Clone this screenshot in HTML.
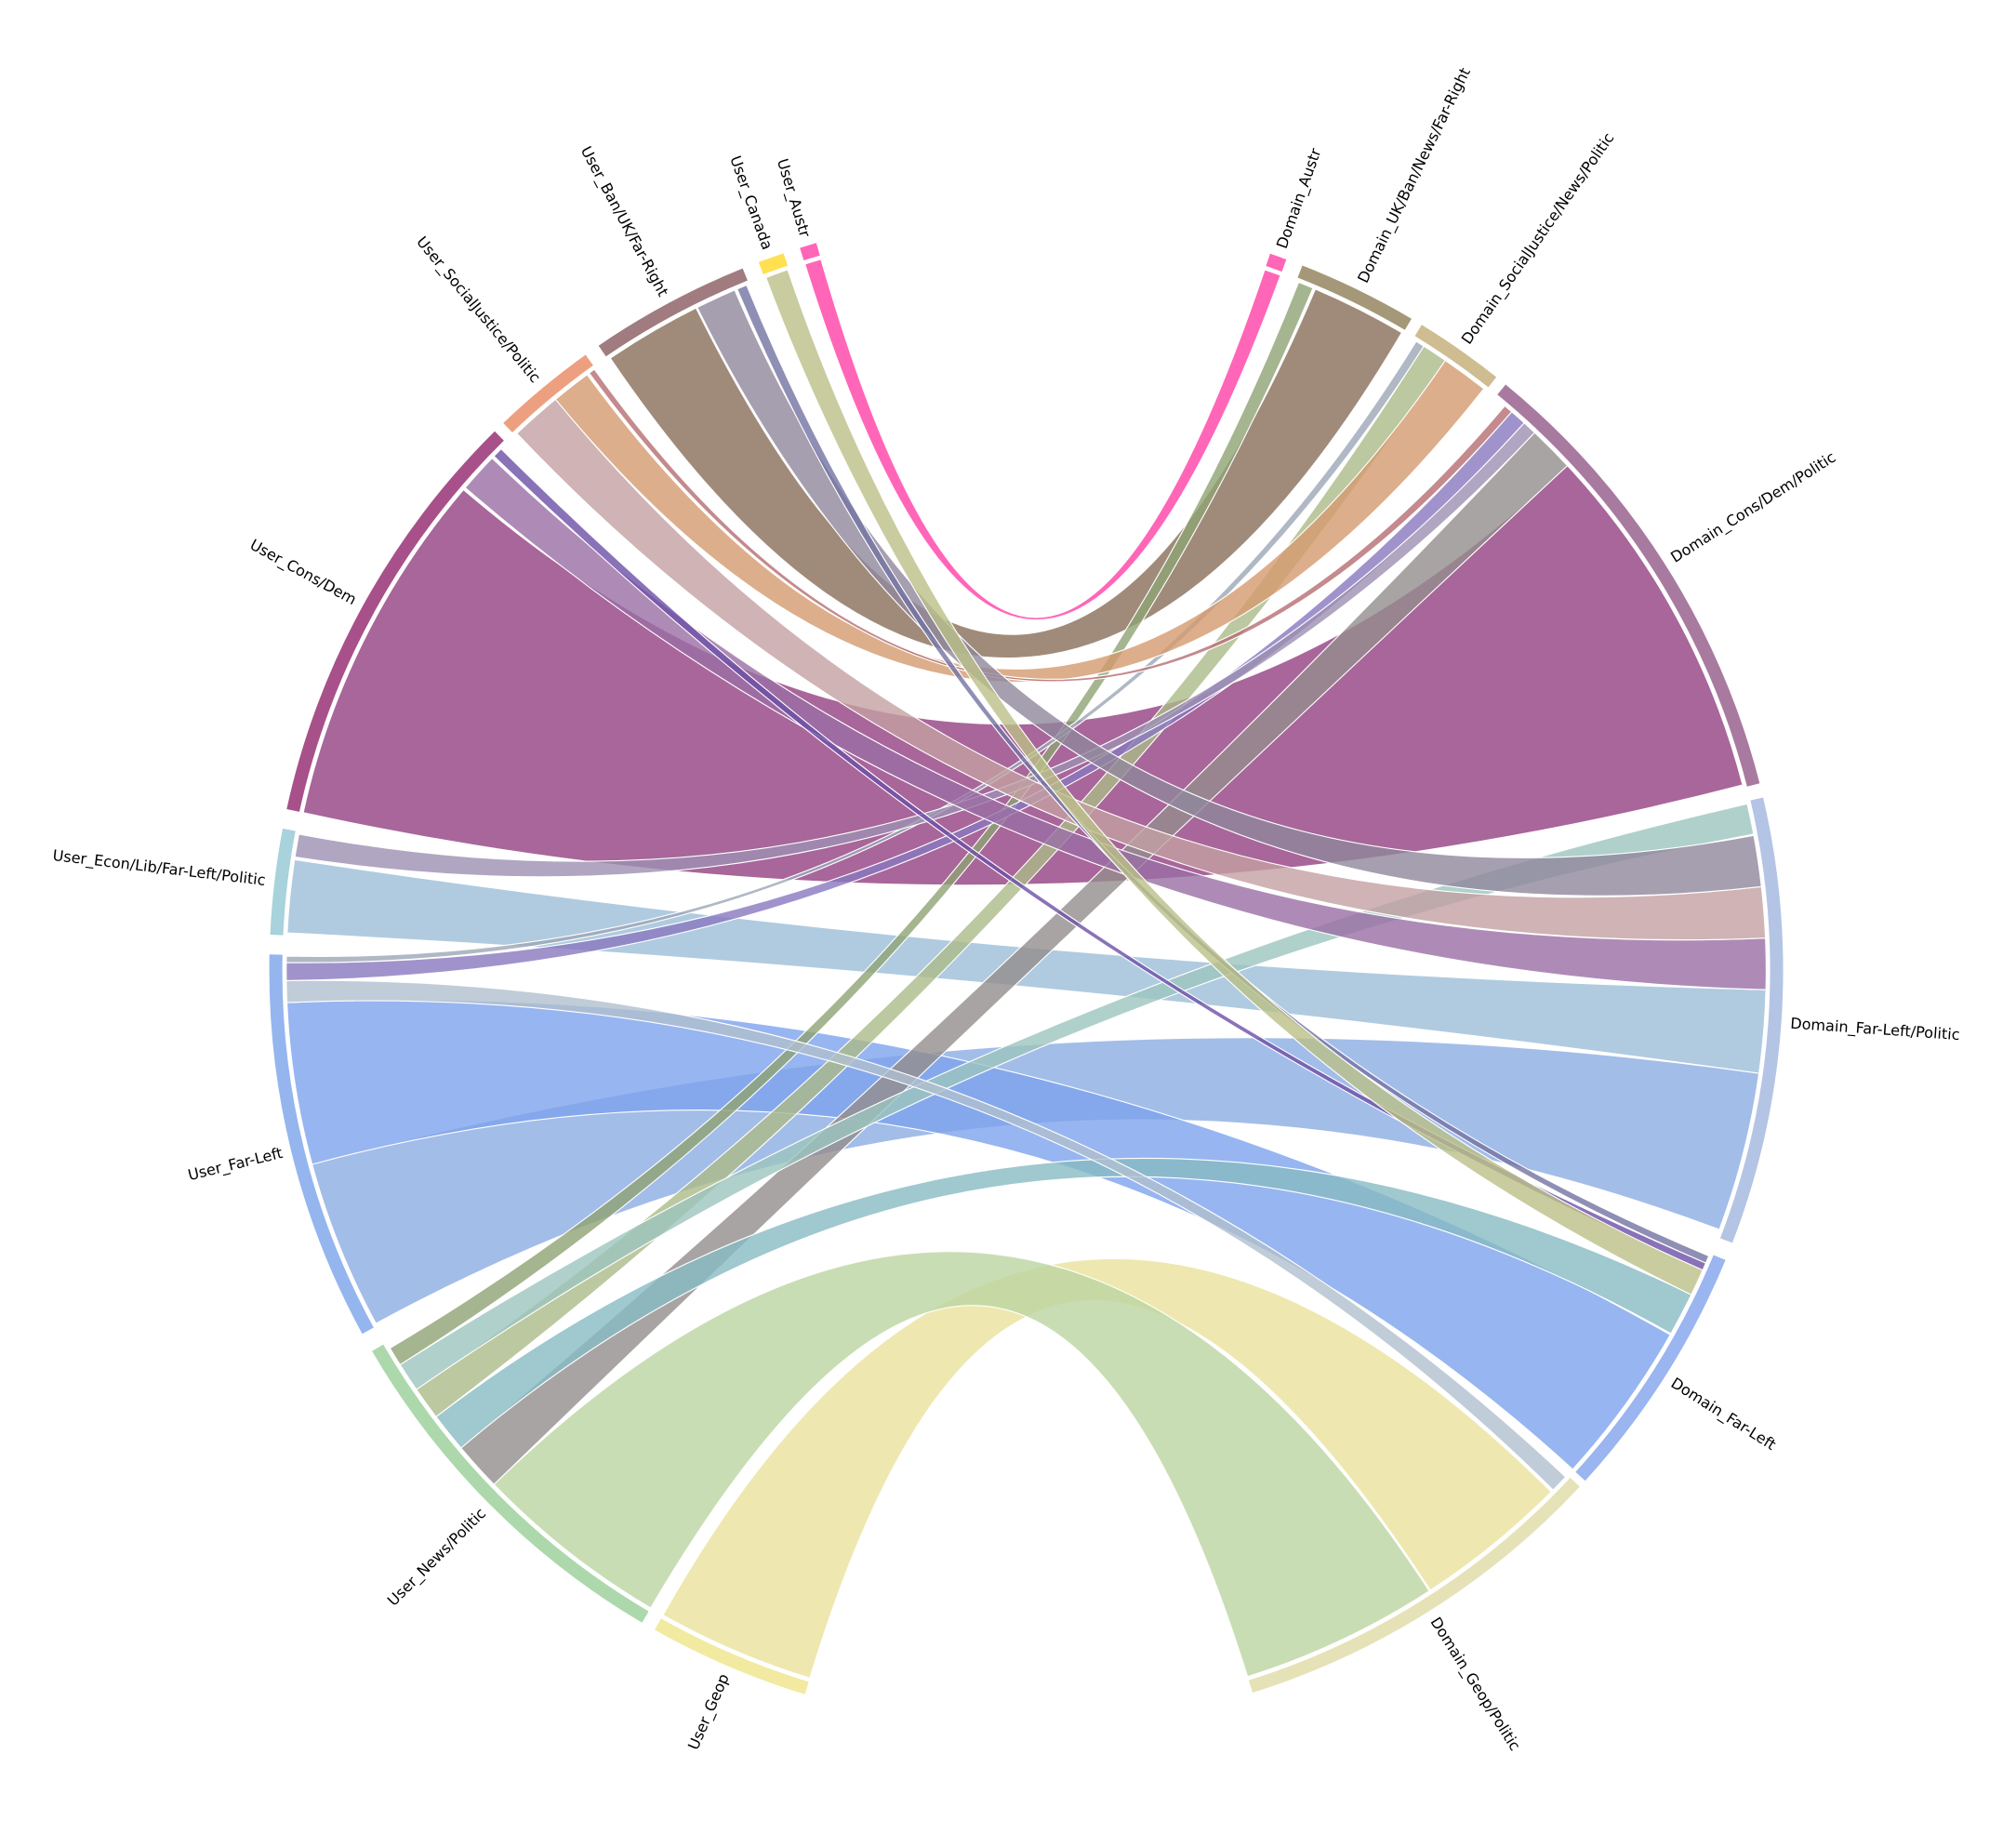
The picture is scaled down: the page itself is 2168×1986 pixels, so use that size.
<!DOCTYPE html>
<html><head><meta charset="utf-8">
<style>html,body{margin:0;padding:0;background:#fff;}svg{display:block;}</style>
</head><body>
<svg id="s" width="2168" height="1986" viewBox="0 0 1550 1420" xmlns="http://www.w3.org/2000/svg">
<rect width="1550" height="1420" fill="#fff"/>
<g id="chords"></g><g id="rings"></g><g id="labels" font-family="DejaVu Sans, Liberation Sans, sans-serif" font-size="11.5" fill="#000"></g>
</svg>
<script>
const cx=789,cy=746,R1=582,R0=572,RC=569,RL=589;
function P(a,r){const t=a*Math.PI/180;return [(cx+r*Math.sin(t)).toFixed(2),(cy-r*Math.cos(t)).toFixed(2)];}
function base(h){const v=[1,3,5].map(i=>parseInt(h.substr(i,2),16));return 'rgb('+v.map(c=>Math.max(0,Math.round((c-0.2*255)/0.8))).join(',')+')';}
const NS='http://www.w3.org/2000/svg';
function add(g,tag,attrs,txt){const e=document.createElementNS(NS,tag);for(const k in attrs)e.setAttribute(k,attrs[k]);if(txt)e.textContent=txt;document.getElementById(g).appendChild(e);return e;}
const rings=[
['User_Austr',342.6,343.9,'#ff66b8'],['User_Canada',339.3,341.3,'#ffe050'],['User_Ban/UK/Far-Right',325.6,338,'#a07c80'],
['User_SocialJustice/Politic',316.3,324.4,'#eda080'],['User_Cons/Dem',282.3,315.4,'#a8508a'],['User_Econ/Lib/Far-Left/Politic',272.7,280.8,'#a8d2dc'],
['User_Far-Left',241.3,271.2,'#95b5ee'],['User_News/Politic',210.5,239.8,'#acd8ac'],['User_Geop',197,209.4,'#f2eaa0'],
['Domain_Austr',18.8,20.1,'#ff66b8'],['Domain_UK/Ban/News/Far-Right',21.4,30.6,'#a59878'],['Domain_SocialJustice/News/Politic',31.5,38.4,'#cfbc90'],
['Domain_Cons/Dem/Politic',39.3,75.7,'#a87aa0'],['Domain_Far-Left/Politic',76.8,111.1,'#b4c4e4'],['Domain_Far-Left',112.5,132.4,'#9ab5ef'],['Domain_Geop/Politic',133,162.6,'#e6e2b8']];
const chords=[
[197,209.4,134.8,146.9,'#eee8b0'],
[210.5,226,147,162.6,'#c9ddb4'],
[241.5,254.8,98,110.5,'#a3bde9'],
[254.8,267.5,119.5,132.4,'#97b5f0'],
[282.3,310.5,47,75.5,'#a8669a'],
[272.9,278.6,91.5,98,'#b0cbe0'],
[325.8,333.5,23,30.5,'#a08b7b'],
[342.6,343.9,18.8,20.1,'#ff66b8'],
[226,229.8,43.4,47,'#a9a4a4'],
[229.8,232.9,116,119.4,'#9fc8cf'],
[232.9,235.5,32.5,34.5,'#bcc8a0'],
[235.5,237.8,77,79.4,'#b0d0cb'],
[237.8,239.3,21.6,22.8,'#a5b58f'],
[267.5,269.2,133.2,134.6,'#c0ccd8'],
[269.2,270.6,41,42.3,'#a093cc'],
[270.6,271.1,31.8,32.5,'#b0b8c5'],
[278.8,280.6,42.3,43.4,'#b0a6c1'],
[310.7,313.8,87.5,91.5,'#ae8bb6'],
[314,314.8,113.3,113.9,'#8a72b8'],
[316.5,320.5,83.5,87.5,'#cfb3b5'],
[320.5,323.6,34.5,38.2,'#ddae8b'],
[323.8,324.3,40.3,41,'#c48a8e'],
[333.6,336.8,79.5,83.5,'#a69fb0'],
[337,337.8,112.7,113.3,'#8f8fb5'],
[339.4,341.2,113.9,116,'#c8cc9f']];
for(const [s0,s1,t0,t1,c] of chords){
 const a=P(s0,RC),b=P(s1,RC),d=P(t0,RC),e=P(t1,RC);
 const ls=(s1-s0)>180?1:0, lt=(t1-t0)>180?1:0;
 const p=`M${a} A${RC} ${RC} 0 ${ls} 1 ${b} Q${cx} ${cy} ${d} A${RC} ${RC} 0 ${lt} 1 ${e} Q${cx} ${cy} ${a} Z`;
 add('chords','path',{d:p.replace(/,/g,' '),fill:base(c),'fill-opacity':0.8,stroke:'#fff','stroke-width':0.8});
}
for(const [n,a0,a1,c] of rings){
 const p=`M${P(a0,R1)} A${R1} ${R1} 0 0 1 ${P(a1,R1)} L${P(a1,R0)} A${R0} ${R0} 0 0 0 ${P(a0,R0)} Z`;
 add('rings','path',{d:p.replace(/,/g,' '),fill:c});
 const m=(a0+a1)/2,[x,y]=P(m,RL);
 let rot,anchor;
 if(m<180){rot=m-90;anchor='start';}else{rot=m-270;anchor='end';}
 add('labels','text',{x:x,y:y,'text-anchor':anchor,'dominant-baseline':'central',transform:`rotate(${rot.toFixed(2)} ${x} ${y})`},n);
}
</script>
</body></html>
